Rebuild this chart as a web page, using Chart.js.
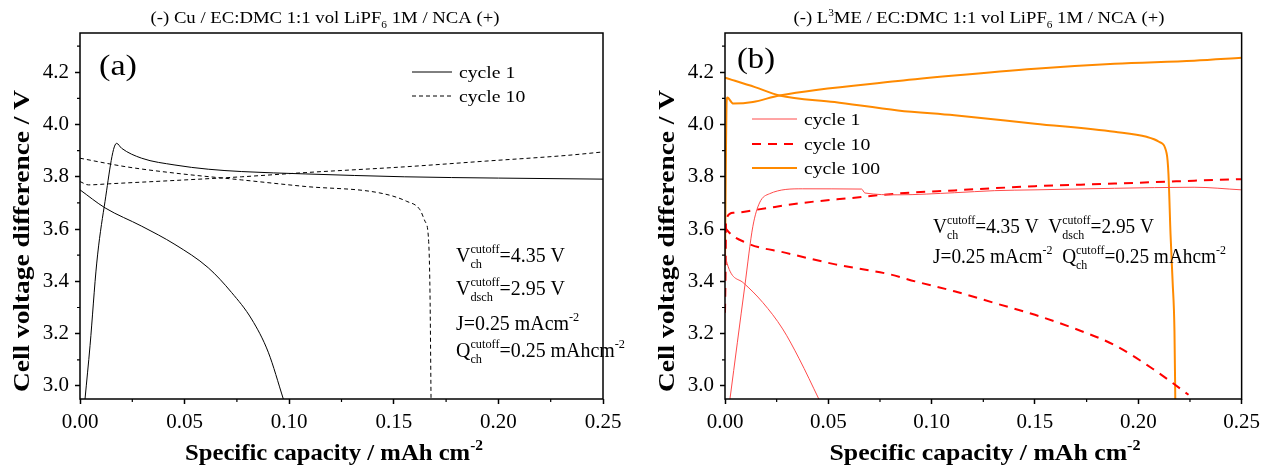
<!DOCTYPE html>
<html>
<head>
<meta charset="utf-8">
<script src="https://cdn.jsdelivr.net/npm/chart.js@4.4.1/dist/chart.umd.min.js"></script>
<style>
  html, body { margin: 0; padding: 0; background: #fff; }
  #wrap { position: relative; width: 1266px; height: 470px; }
  canvas { position: absolute; top: 0; }
  #chartA { left: 0; }
  #chartB { left: 633px; }
</style>
</head>
<body>
<div id="wrap">
  <canvas id="chartA" width="633" height="470"></canvas>
  <canvas id="chartB" width="633" height="470"></canvas>
</div>
<script>
const X_MIN = 0, X_MAX = 0.25, Y_MIN = 2.95, Y_MAX = 4.35;
const xTickValues = [0, 0.05, 0.10, 0.15, 0.20, 0.25];
const yTickValues = [3.0, 3.2, 3.4, 3.6, 3.8, 4.0, 4.2];

// panel (a): Cu negative electrode  [capacity mAh/cm2, voltage V]
const cuCycle1Charge = [[0.0024,2.95],[0.0048,3.154],[0.008,3.47],[0.0116,3.687],[0.0175,3.928],[0.0199,3.909],[0.0295,3.871],[0.0454,3.845],[0.0613,3.829],[0.0773,3.82],[0.1076,3.811],[0.155,3.80],[0.20,3.795],[0.25,3.791]];
const cuCycle1Discharge = [[0,3.75],[0.012,3.681],[0.0295,3.611],[0.0454,3.541],[0.0613,3.452],[0.0725,3.357],[0.082,3.256],[0.09,3.129],[0.0972,2.95]];
const cuCycle10Charge = [[0,3.782],[0.004,3.769],[0.0135,3.773],[0.0454,3.786],[0.0773,3.80],[0.1076,3.816],[0.155,3.838],[0.194,3.86],[0.233,3.882],[0.25,3.895]];
const cuCycle10Discharge = [[0,3.871],[0.0215,3.839],[0.0454,3.814],[0.0773,3.788],[0.1076,3.763],[0.1434,3.738],[0.1562,3.706],[0.1625,3.674],[0.1649,3.63],[0.1665,3.573],[0.1673,3.357],[0.1678,2.95]];

// panel (b): L3ME negative electrode
const lmeCycle1Charge = [[0.0024,2.95],[0.0096,3.383],[0.0135,3.611],[0.0167,3.70],[0.0215,3.735],[0.0374,3.754],[0.0661,3.753],[0.0677,3.738],[0.0837,3.731],[0.111,3.739],[0.1305,3.747],[0.15,3.75],[0.1885,3.756],[0.227,3.76],[0.25,3.75]];
const lmeCycle1Discharge = [[0,3.52],[0.0005,3.484],[0.0088,3.395],[0.0183,3.319],[0.0279,3.218],[0.0359,3.104],[0.0454,2.95]];
const lmeCycle10Charge = [[0,3.28],[0.0003,3.45],[0.0005,3.636],[0.004,3.662],[0.0152,3.674],[0.0374,3.70],[0.0613,3.719],[0.0837,3.736],[0.111,3.748],[0.15,3.764],[0.1885,3.774],[0.227,3.785],[0.25,3.791]];
const lmeCycle10Discharge = [[0,3.61],[0.0008,3.598],[0.0104,3.547],[0.0295,3.509],[0.0534,3.465],[0.0797,3.427],[0.092,3.40],[0.111,3.362],[0.1305,3.317],[0.15,3.272],[0.169,3.22],[0.1885,3.156],[0.208,3.06],[0.2156,3.017],[0.2243,2.966]];
const lmeCycle100Charge = [[0,3.46],[0.0004,3.84],[0.0008,4.09],[0.0011,4.103],[0.004,4.08],[0.0135,4.086],[0.0263,4.111],[0.0837,4.166],[0.111,4.187],[0.15,4.213],[0.1885,4.232],[0.227,4.244],[0.25,4.255]];
const lmeCycle100Discharge = [[0,4.179],[0.0145,4.143],[0.0263,4.111],[0.053,4.086],[0.0837,4.054],[0.111,4.035],[0.15,4.003],[0.1885,3.972],[0.204,3.953],[0.21,3.934],[0.2137,3.89],[0.2146,3.81],[0.2156,3.58],[0.2166,3.40],[0.2175,3.21],[0.2179,2.95]];

const SERIF = '"Liberation Serif", "Times New Roman", serif';
Chart.defaults.font.family = SERIF;
Chart.defaults.color = '#000';

function line(pts, color, width, dash) {
    return {
        data: pts.map(([x, y]) => ({ x, y })),
        borderColor: color,
        borderWidth: width,
        borderDash: dash,
        pointRadius: 0,
        fill: false,
        cubicInterpolationMode: 'monotone'
    };
}

// rich text: strings, or {sup, sub} stacked small text
function richWidth(ctx, parts, size, weight) {
    let w = 0;
    for (const p of parts) {
        if (typeof p === 'string') {
            ctx.font = `${weight} ${size}px ${SERIF}`;
            w += ctx.measureText(p).width;
        } else {
            ctx.font = `${weight} ${Math.round(size * 0.62)}px ${SERIF}`;
            w += Math.max(p.sup ? ctx.measureText(p.sup).width : 0, p.sub ? ctx.measureText(p.sub).width : 0);
        }
    }
    return w;
}

function drawRich(ctx, parts, x, y, o) {
    const size = o.size, weight = o.weight || 'normal';
    const nat = richWidth(ctx, parts, size, weight);
    const sx = o.width ? o.width / nat : (o.sx || 1);
    const start = o.align === 'center' ? x - nat * sx / 2 : x;
    ctx.save();
    ctx.translate(start, y);
    ctx.scale(sx, 1);
    ctx.fillStyle = '#000';
    ctx.textAlign = 'left';
    ctx.textBaseline = 'alphabetic';
    let cx = 0;
    for (const p of parts) {
        if (typeof p === 'string') {
            ctx.font = `${weight} ${size}px ${SERIF}`;
            ctx.fillText(p, cx, 0);
            cx += ctx.measureText(p).width;
        } else {
            ctx.font = `${weight} ${Math.round(size * 0.62)}px ${SERIF}`;
            let w = 0;
            if (p.sup) { ctx.fillText(p.sup, cx, -size * 0.42); w = ctx.measureText(p.sup).width; }
            if (p.sub) { ctx.fillText(p.sub, cx, size * 0.3); w = Math.max(w, ctx.measureText(p.sub).width); }
            cx += w;
        }
    }
    ctx.restore();
    return sx;
}

const panelDecor = {
    id: 'panelDecor',
    afterDraw(chart, args, o) {
        const ctx = chart.ctx;
        const { left, right, top, bottom } = chart.chartArea;
        const xs = chart.scales.x, ys = chart.scales.y;
        ctx.save();

        // minor ticks
        ctx.strokeStyle = '#000';
        ctx.lineWidth = 1.2;
        ctx.beginPath();
        xTickValues.forEach(v => {
            const m = v + 0.025;
            if (m < X_MAX) { const px = xs.getPixelForValue(m); ctx.moveTo(px, bottom); ctx.lineTo(px, bottom + 3); }
        });
        yTickValues.forEach(v => {
            const m = v + 0.1;
            if (m < Y_MAX) { const py = ys.getPixelForValue(m); ctx.moveTo(left, py); ctx.lineTo(left - 3, py); }
        });
        ctx.stroke();

        // frame
        ctx.lineWidth = 1.5;
        ctx.strokeRect(left, top, right - left, bottom - top);

        // titles
        drawRich(ctx, o.title, o.titleX, 23, { size: 16.5, width: o.titleW, align: 'center' });
        drawRich(ctx, [o.panel], o.panelX, o.panelY, { size: 30, width: 38 });
        drawRich(ctx, ['Specific capacity / mAh cm', { sup: '-2' }], o.xTitleX, 460, { size: 24, weight: 'bold', width: o.xTitleW, align: 'center' });
        ctx.save();
        ctx.translate(o.yTitleX, 241);
        ctx.rotate(-Math.PI / 2);
        drawRich(ctx, ['Cell voltage difference / V'], 0, 8, { size: 24, weight: 'bold', width: 302, align: 'center' });
        ctx.restore();

        // legend
        o.legend.forEach((it, i) => {
            const ds = chart.data.datasets[it.ds];
            const y = o.legendY[i];
            ctx.beginPath();
            ctx.strokeStyle = ds.borderColor;
            ctx.lineWidth = ds.borderWidth;
            ctx.setLineDash(ds.borderDash || []);
            ctx.moveTo(o.legendX[0], y);
            ctx.lineTo(o.legendX[1], y);
            ctx.stroke();
            ctx.setLineDash([]);
            drawRich(ctx, [it.label], o.legendX[1] + 7, y + 6, { size: 17, sx: 1.16 });
        });

        // annotation block
        const sx = drawRich(ctx, o.notes[0], o.notesX, o.notesY[0], { size: 21, width: o.notesW });
        for (let i = 1; i < o.notes.length; i++) {
            drawRich(ctx, o.notes[i], o.notesX, o.notesY[i], { size: 21, sx });
        }
        ctx.restore();
    }
};

function makeChart(id, datasets, yWidth, padRight, decor) {
    return new Chart(document.getElementById(id), {
        type: 'line',
        data: { datasets },
        options: {
            responsive: false,
            animation: false,
            events: [],
            layout: { padding: { top: 33, right: padRight, bottom: 0, left: 0 } },
            plugins: { legend: { display: false }, tooltip: { enabled: false }, panelDecor: decor },
            scales: {
                x: {
                    type: 'linear', min: X_MIN, max: X_MAX,
                    afterBuildTicks: s => { s.ticks = xTickValues.map(v => ({ value: v })); },
                    afterFit: s => { s.height = 71; },
                    grid: { display: true, drawOnChartArea: false, drawTicks: true, tickLength: 5, tickWidth: 1.5, tickColor: '#000' },
                    border: { display: false },
                    ticks: { font: { size: 21 }, color: '#000', padding: 6, maxRotation: 0, autoSkip: false, callback: v => v.toFixed(2) }
                },
                y: {
                    type: 'linear', min: Y_MIN, max: Y_MAX,
                    afterBuildTicks: s => { s.ticks = yTickValues.map(v => ({ value: v })); },
                    afterFit: s => { s.width = yWidth; },
                    grid: { display: true, drawOnChartArea: false, drawTicks: true, tickLength: 5, tickWidth: 1.5, tickColor: '#000' },
                    border: { display: false },
                    ticks: { font: { size: 21 }, color: '#000', padding: 6, autoSkip: false, callback: v => v.toFixed(1) }
                }
            }
        },
        plugins: [panelDecor]
    });
}

const cuSets = [
    line(cuCycle1Charge, '#000', 1, []),
    line(cuCycle1Discharge, '#000', 1, []),
    line(cuCycle10Charge, '#000', 1, [4, 3]),
    line(cuCycle10Discharge, '#000', 1, [4, 3])
];
makeChart('chartA', cuSets, 80, 30, {
    title: ['(-) Cu / EC:DMC 1:1 vol LiPF', { sub: '6' }, ' 1M / NCA (+)'],
    titleX: 325, titleW: 349,
    panel: '(a)', panelX: 99, panelY: 75,
    xTitleX: 334, xTitleW: 298, yTitleX: 21,
    legend: [{ label: 'cycle 1', ds: 0 }, { label: 'cycle 10', ds: 2 }],
    legendX: [412, 452], legendY: [72, 96],
    notes: [
        ['V', { sup: 'cutoff', sub: 'ch' }, '=4.35 V'],
        ['V', { sup: 'cutoff', sub: 'dsch' }, '=2.95 V'],
        ['J=0.25 mAcm', { sup: '-2' }],
        ['Q', { sup: 'cutoff', sub: 'ch' }, '=0.25 mAhcm', { sup: '-2' }]
    ],
    notesX: 456, notesY: [262, 295, 330, 357], notesW: 109
});

const lmeSets = [
    line(lmeCycle1Charge, '#ff4b4b', 1, []),
    line(lmeCycle1Discharge, '#ff4b4b', 1, []),
    line(lmeCycle10Charge, '#ff0000', 2, [9, 7]),
    line(lmeCycle10Discharge, '#ff0000', 2, [9, 7]),
    line(lmeCycle100Charge, '#ff8a00', 2, []),
    line(lmeCycle100Discharge, '#ff8a00', 2, [])
];
makeChart('chartB', lmeSets, 92, 19, {
    title: ['(-) L', { sup: '3' }, 'ME / EC:DMC 1:1 vol LiPF', { sub: '6' }, ' 1M / NCA (+)'],
    titleX: 346, titleW: 371,
    panel: '(b)', panelX: 104, panelY: 68,
    xTitleX: 352, xTitleW: 311, yTitleX: 33,
    legend: [{ label: 'cycle 1', ds: 0 }, { label: 'cycle 10', ds: 2 }, { label: 'cycle 100', ds: 4 }],
    legendX: [119, 164], legendY: [119, 144, 168],
    notes: [
        ['V', { sup: 'cutoff', sub: 'ch' }, '=4.35 V  V', { sup: 'cutoff', sub: 'dsch' }, '=2.95 V'],
        ['J=0.25 mAcm', { sup: '-2' }, '  Q', { sup: 'cutoff', sub: 'ch' }, '=0.25 mAhcm', { sup: '-2' }]
    ],
    notesX: 300, notesY: [233, 263], notesW: 221
});
</script>
</body>
</html>
